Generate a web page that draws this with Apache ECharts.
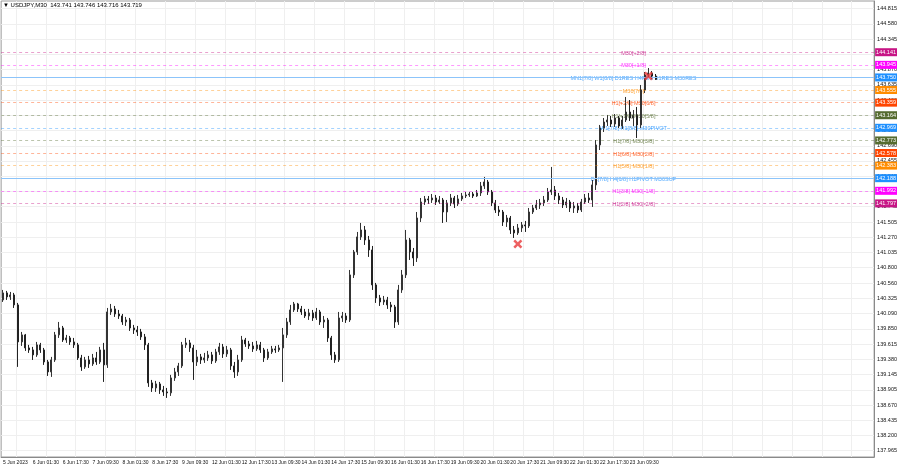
<!DOCTYPE html>
<html><head><meta charset="utf-8">
<script src="https://cdn.jsdelivr.net/npm/echarts@6/dist/echarts.min.js"></script>
<style>html,body{margin:0;padding:0;background:#fff}#c{width:900px;height:468px}</style>
</head><body><div id="c"></div>
<script>
// X tick labels (one every 8 two-hour bars)
const tickLabels = ['5 Jun 2023','6 Jun 01:30','6 Jun 17:30','7 Jun 09:30','8 Jun 01:30','8 Jun 17:30','9 Jun 09:30','12 Jun 01:30','12 Jun 17:30','13 Jun 09:30','14 Jun 01:30','14 Jun 17:30','15 Jun 09:30','16 Jun 01:30','16 Jun 17:30','19 Jun 09:30','20 Jun 01:30','20 Jun 17:30','21 Jun 09:30','22 Jun 01:30','22 Jun 17:30','23 Jun 09:30'];
// Y tick labels
const yTickLabels = ['137.965','138.200','138.435','138.670','138.905','139.145','139.380','139.615','139.850','140.090','140.325','140.560','140.800','141.035','141.270','141.505','141.745','141.980','142.215','142.455','142.690','142.925','143.165','143.400','143.635','143.870','144.110','144.345','144.580','144.815'];

const opens = [140.300,140.409,140.347,140.378,140.223,139.649,139.758,139.556,139.525,139.448,
139.603,139.525,139.339,139.184,139.370,139.758,139.866,139.680,139.711,139.649,
139.603,139.401,139.262,139.370,139.308,139.401,139.339,139.525,139.293,140.114,
140.161,140.083,140.052,139.959,139.990,139.866,139.835,139.804,139.727,139.603,
139.014,138.936,138.998,138.905,138.874,138.859,139.091,139.184,139.277,139.603,
139.634,139.556,139.339,139.417,139.370,139.401,139.448,139.355,139.494,139.572,
139.463,139.525,139.277,139.184,139.370,139.680,139.618,139.587,139.541,139.603,
139.525,139.401,139.494,139.541,139.525,139.556,139.758,139.959,140.145,140.238,
140.161,140.114,140.052,140.099,140.021,140.114,139.959,139.990,139.711,139.448,
139.370,140.021,140.052,139.990,140.688,141.044,141.277,141.385,141.230,141.075,
140.533,140.331,140.269,140.300,140.223,140.192,139.959,140.455,140.688,141.230,
141.044,140.951,141.571,141.819,141.866,141.850,141.881,141.819,141.850,141.664,
141.804,141.881,141.788,141.866,141.912,141.928,141.943,141.912,141.959,142.067,
142.129,141.974,141.804,141.695,141.664,141.509,141.571,141.385,141.339,141.416,
141.463,141.447,141.664,141.726,141.773,141.804,141.850,141.974,142.005,141.912,
141.850,141.773,141.819,141.726,141.757,141.695,141.819,141.881,141.850,142.083,
142.703,142.966,143.059,143.090,143.028,143.121,142.997,143.090,143.214,143.121,
143.168,143.013,143.555,143.788,143.819,143.772];
const highs = [140.455,140.440,140.424,140.409,140.254,139.804,139.773,139.603,139.572,139.649,
139.634,139.556,139.370,139.417,139.804,139.959,139.897,139.758,139.742,139.711,
139.634,139.448,139.417,139.432,139.463,139.494,139.572,139.634,140.176,140.238,
140.207,140.145,140.083,140.037,140.021,139.913,139.897,139.851,139.773,139.634,
139.060,139.045,139.029,138.967,138.936,139.138,139.246,139.324,139.649,139.711,
139.680,139.603,139.525,139.463,139.479,139.510,139.494,139.541,139.634,139.618,
139.587,139.556,139.339,139.448,139.742,139.711,139.665,139.649,139.665,139.649,
139.556,139.541,139.587,139.587,139.603,139.866,140.021,140.223,140.269,140.254,
140.207,140.161,140.161,140.145,140.176,140.145,140.052,140.021,139.742,139.494,
140.114,140.114,140.099,140.765,141.075,141.354,141.494,141.447,141.292,141.137,
140.564,140.378,140.362,140.347,140.269,140.223,140.533,140.765,141.385,141.261,
141.106,141.664,141.881,141.912,141.912,141.943,141.928,141.912,141.881,141.850,
141.943,141.912,141.928,141.959,141.974,141.974,141.974,142.005,142.129,142.207,
142.160,142.005,141.850,141.757,141.695,141.618,141.602,141.447,141.478,141.509,
141.525,141.726,141.773,141.850,141.866,141.912,142.036,142.362,142.067,141.959,
141.897,141.881,141.850,141.819,141.804,141.866,141.943,141.959,142.160,142.780,
143.013,143.121,143.168,143.152,143.183,143.152,143.152,143.447,143.400,143.245,
143.292,143.633,143.834,143.896,143.850,143.803];
const lows = [140.269,140.300,140.300,140.176,139.262,139.587,139.510,139.479,139.370,139.417,
139.479,139.293,139.122,139.107,139.339,139.711,139.649,139.634,139.603,139.556,
139.370,139.200,139.231,139.246,139.277,139.293,139.308,139.029,139.246,140.068,
140.037,140.006,139.913,139.897,139.820,139.773,139.742,139.680,139.525,138.952,
138.874,138.874,138.843,138.812,138.781,138.812,139.045,139.122,139.246,139.556,
139.494,139.060,139.277,139.308,139.324,139.355,139.308,139.324,139.448,139.401,
139.417,139.215,139.091,139.122,139.339,139.572,139.541,139.494,139.510,139.479,
139.339,139.370,139.463,139.479,139.494,139.029,139.711,139.913,140.114,140.114,
140.068,140.021,139.990,139.975,139.990,139.913,139.866,139.649,139.370,139.324,
139.339,139.959,139.944,139.959,140.641,140.998,141.230,141.153,140.967,140.455,
140.254,140.207,140.223,140.161,140.114,139.866,139.913,140.409,140.641,140.920,
140.827,140.889,141.509,141.773,141.788,141.804,141.773,141.788,141.494,141.509,
141.757,141.726,141.757,141.835,141.881,141.897,141.881,141.897,141.912,142.021,
141.928,141.757,141.649,141.602,141.447,141.432,141.323,141.261,141.308,141.354,
141.354,141.416,141.633,141.695,141.711,141.757,141.819,141.928,141.850,141.788,
141.726,141.726,141.664,141.649,141.649,141.664,141.788,141.804,141.742,142.005,
142.625,142.904,142.997,142.982,142.982,142.966,142.951,143.059,143.075,142.997,
142.811,142.966,143.509,143.741,143.726,143.710];
const closes = [140.409,140.347,140.378,140.223,139.649,139.758,139.556,139.525,139.448,139.603,
139.525,139.339,139.184,139.370,139.758,139.866,139.680,139.711,139.649,139.603,
139.401,139.262,139.370,139.308,139.401,139.339,139.525,139.293,140.114,140.161,
140.083,140.052,139.959,139.990,139.866,139.835,139.804,139.727,139.603,139.014,
138.936,138.998,138.905,138.874,138.859,139.091,139.184,139.277,139.603,139.634,
139.556,139.339,139.417,139.370,139.401,139.448,139.355,139.494,139.572,139.463,
139.525,139.277,139.184,139.370,139.680,139.618,139.587,139.541,139.603,139.525,
139.401,139.494,139.541,139.525,139.556,139.758,139.959,140.145,140.238,140.161,
140.114,140.052,140.099,140.021,140.114,139.959,139.990,139.711,139.448,139.370,
140.021,140.052,139.990,140.688,141.044,141.277,141.385,141.230,141.075,140.533,
140.331,140.269,140.300,140.223,140.192,139.959,140.455,140.688,141.230,141.044,
140.951,141.571,141.819,141.866,141.850,141.881,141.819,141.850,141.664,141.804,
141.881,141.788,141.866,141.912,141.928,141.943,141.912,141.959,142.067,142.129,
141.974,141.804,141.695,141.664,141.509,141.571,141.385,141.339,141.416,141.463,
141.447,141.664,141.726,141.773,141.804,141.850,141.974,142.005,141.912,141.850,
141.773,141.819,141.726,141.757,141.695,141.819,141.881,141.850,142.083,142.703,
142.966,143.059,143.090,143.028,143.121,142.997,143.090,143.214,143.121,143.168,
143.013,143.555,143.788,143.819,143.772,143.719];

// Murrey-math style levels
const levelPrices = [144.141,143.945,143.750,143.555,143.359,143.164,142.969,142.773,142.578,142.383,142.188,141.992,141.797];
const levelNames = ['M30[+2/8]','M30[+1/8]','MN1[7/8] W1[8/8] D1RES H4RES H1RES M30RES','M30[7/8]','H1[+2/8] M30[6/8]','H1[+1/8] M30[5/8]','W1[7/8] H1[8/8] M30PIVOT','H1[7/8] M30[3/8]','H1[6/8] M30[2/8]','H1[5/8] M30[1/8]','D1[7/8] H4[6/8] H1PIVOT M30SUP','H1[3/8] M30[-1/8]','H1[2/8] M30[-2/8]'];
const levelColors = ['#C71585','#FF00FF','#1E90FF','#FF8C00','#FF4500','#556B2F','#1E90FF','#556B2F','#FF4500','#FF8C00','#1E90FF','#FF00FF','#C71585'];
const levelSolid = [false,false,true,false,false,false,false,false,false,false,true,false,false];
const levelLabelBar = 169;

// red cross markers
const markerBars = [138, 173];
const markerPrices = [141.168, 143.772];

const headerText = '\u25BC USDJPY,M30  143.741 143.746 143.716 143.719';
const totalSlots = 234;

const cats = [];
for (let i = 0; i < totalSlots; i++) cats.push(String(i));
const candles = opens.map((o, i) => [o, closes[i], lows[i], highs[i]]);
const yTickValues = yTickLabels.map(Number);

function hexA(hex, a) {
  const n = parseInt(hex.slice(1), 16);
  return 'rgba(' + (n >> 16) + ',' + ((n >> 8) & 255) + ',' + (n & 255) + ',' + a + ')';
}

const FONT = 'Liberation Sans, Arial, sans-serif';
const chart = echarts.init(document.getElementById('c'), null, {renderer: 'canvas'});
chart.setOption({
  animation: false,
  backgroundColor: '#ffffff',
  title: {text: headerText, left: 3, top: 2, padding: 0, textStyle: {fontSize: 6, fontWeight: 'normal', color: '#000', fontFamily: FONT}},
  grid: {left: 0, right: 23, top: 1, bottom: 11, show: true, borderColor: '#9a9a9a', borderWidth: 1},
  xAxis: {
    type: 'category', data: cats, boundaryGap: true,
    axisLine: {show: true, lineStyle: {color: '#8a8a8a'}},
    axisTick: {show: false},
    axisLabel: {
      interval: (i) => i % 8 === 0 && i / 8 < tickLabels.length,
      formatter: (v, i) => tickLabels[Math.round(i / 8)] || '',
      fontSize: 5, color: '#111', align: 'left', margin: 3, fontFamily: FONT
    },
    splitLine: {show: true, interval: (i) => i % 8 === 4, lineStyle: {color: '#efefef', width: 1}}
  },
  yAxis: {
    type: 'value', position: 'right', min: 137.865, max: 144.935, scale: true,
    axisLine: {show: true, lineStyle: {color: '#8a8a8a'}},
    axisTick: {show: false, customValues: yTickValues},
    axisLabel: {
      customValues: yTickValues, fontSize: 5.5, color: '#111', margin: 3, fontFamily: FONT,
      formatter: (v) => {
        let best = 0, d = 1e9;
        yTickValues.forEach((t, k) => { if (Math.abs(t - v) < d) { d = Math.abs(t - v); best = k; } });
        return yTickLabels[best];
      }
    },
    splitLine: {show: true, lineStyle: {color: '#efefef', width: 1}}
  },
  series: [
    {
      type: 'scatter', z: 1, silent: true, symbolSize: 1,
      itemStyle: {color: 'rgba(0,0,0,0)'},
      data: levelPrices.map((p, i) => ({
        value: [levelLabelBar, p],
        label: {show: true, position: 'inside', offset: [0, 1], formatter: levelNames[i], color: levelColors[i], fontSize: 5.5, fontFamily: FONT}
      }))
    },
    {
      type: 'candlestick', z: 2, barWidth: 1.5,
      data: candles,
      itemStyle: {color: '#ffffff', color0: '#222222', borderColor: '#333333', borderColor0: '#222222', borderWidth: 1},
      markLine: {
        silent: true, symbol: ['none', 'none'], precision: 3,
        data: levelPrices.map((p, i) => ({
          yAxis: p,
          lineStyle: levelSolid[i] ? {color: '#8cc4fa', type: 'solid', width: 1.2, opacity: 1}
                                   : {color: hexA(levelColors[i], 0.4), type: [3, 3], width: 1},
          label: {show: true, position: 'end', distance: 1, formatter: p.toFixed(3), color: '#fff',
                  backgroundColor: levelColors[i], fontSize: 5.5, padding: [1, 1, 0, 1], lineHeight: 7, fontFamily: FONT}
        }))
      }
    },
    {
      type: 'scatter', z: 5, silent: true,
      symbol: 'path://M2,0 L5,3 L8,0 L10,2 L7,5 L10,8 L8,10 L5,7 L2,10 L0,8 L3,5 L0,2 Z',
      symbolSize: 9, itemStyle: {color: '#e8383a'},
      data: markerBars.map((b, i) => [b, markerPrices[i]])
    }
  ]
});
</script>
</body></html>
